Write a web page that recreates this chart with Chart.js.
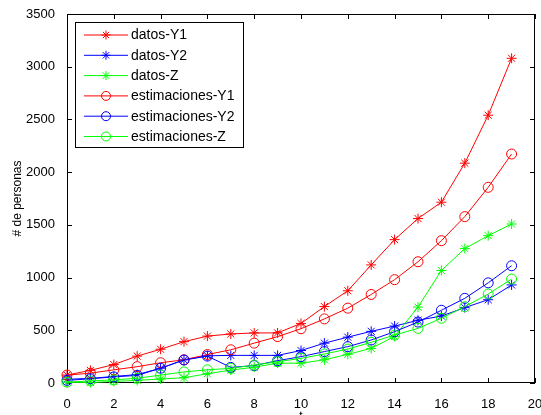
<!DOCTYPE html>
<html lang="es">
<head>
<meta charset="utf-8">
<title>datos y estimaciones</title>
<script src="https://cdn.jsdelivr.net/npm/chart.js"></script>
<style>
  body { margin: 0; background: #fff; }
  canvas { display: block; }
</style>
</head>
<body>
<canvas id="chart" width="541" height="415"></canvas>
<script>
// valores
const t = [0, 1, 2, 3, 4, 5, 6, 7, 8, 9, 10, 11, 12, 13, 14, 15, 16, 17, 18, 19];
const datosY1 = [75, 120, 175, 255, 320, 392, 445, 465, 475, 475, 565, 725, 875, 1120, 1360, 1560, 1715, 2085, 2540, 3080];
const datosY2 = [35, 44, 62, 80, 140, 220, 258, 262, 262, 262, 308, 378, 435, 490, 540, 595, 635, 715, 790, 930];
const datosZ = [8, 5, 15, 25, 38, 50, 88, 122, 150, 188, 188, 220, 272, 328, 442, 720, 1067, 1275, 1398, 1508];
const estY1 = [75, 93, 125, 155, 192, 220, 270, 315, 378, 440, 515, 608, 710, 840, 980, 1150, 1350, 1578, 1856, 2172];
const estY2 = [25, 40, 58, 72, 140, 218, 255, 148, 165, 212, 250, 298, 345, 408, 487, 578, 690, 803, 950, 1112];
const estZ = [8, 20, 30, 45, 75, 105, 125, 139, 170, 202, 234, 275, 322, 386, 455, 518, 614, 724, 844, 986];

const xTicks = [0, 2, 4, 6, 8, 10, 12, 14, 16, 18, 20];
const yTicks = [0, 500, 1000, 1500, 2000, 2500, 3000, 3500];

const FONT = "'Liberation Sans', Arial, sans-serif";

function serie(label, values, color, marker, order) {
  return {
    label: label,
    data: values.map((v, i) => ({ x: t[i], y: v })),
    borderColor: color,
    backgroundColor: color,
    pointBorderColor: color,
    pointBackgroundColor: marker === 'circle' ? 'rgba(0,0,0,0)' : color,
    pointStyle: marker,
    pointRadius: 5,
    pointBorderWidth: 1,
    borderWidth: 1,
    tension: 0,
    fill: false,
    clip: false,
    order: order
  };
}

function drawMarker(ctx, style, x, y, r) {
  ctx.beginPath();
  if (style === 'circle') {
    ctx.arc(x, y, r, 0, Math.PI * 2);
  } else {
    for (let k = 0; k < 4; k++) {
      const a = k * Math.PI / 4;
      ctx.moveTo(x - r * Math.cos(a), y - r * Math.sin(a));
      ctx.lineTo(x + r * Math.cos(a), y + r * Math.sin(a));
    }
  }
  ctx.stroke();
}

// marco y marcas hacia dentro, como en matlab
const framePlugin = {
  id: 'frame',
  beforeDatasetsDraw(chart) {
    const ctx = chart.ctx;
    const a = chart.chartArea;
    const xs = chart.scales.x, ys = chart.scales.y;
    ctx.save();
    ctx.strokeStyle = '#000';
    ctx.lineWidth = 1;
    ctx.strokeRect(a.left + 0.5, a.top + 0.5, a.right - a.left - 1, a.bottom - a.top - 1);
    ctx.beginPath();
    xTicks.forEach(v => {
      const px = Math.round(xs.getPixelForValue(v)) + 0.5;
      ctx.moveTo(px, a.bottom); ctx.lineTo(px, a.bottom - 5);
      ctx.moveTo(px, a.top); ctx.lineTo(px, a.top + 5);
    });
    yTicks.forEach(v => {
      const py = Math.round(ys.getPixelForValue(v)) + 0.5;
      ctx.moveTo(a.left, py); ctx.lineTo(a.left + 5, py);
      ctx.moveTo(a.right, py); ctx.lineTo(a.right - 5, py);
    });
    ctx.stroke();
    ctx.restore();
  }
};

const legendPlugin = {
  id: 'matlabLegend',
  afterDraw(chart) {
    const ctx = chart.ctx;
    const sets = chart.data.datasets;
    const box = { x: 75.5, y: 22.5, w: 168, h: 125 };
    ctx.save();
    ctx.fillStyle = '#fff';
    ctx.fillRect(box.x, box.y, box.w, box.h);
    ctx.strokeStyle = '#000';
    ctx.lineWidth = 1;
    ctx.strokeRect(box.x, box.y, box.w, box.h);
    ctx.font = '14px ' + FONT;
    ctx.textBaseline = 'middle';
    sets.forEach((ds, i) => {
      const y = 35 + i * 20.3;
      ctx.strokeStyle = ds.borderColor;
      ctx.beginPath();
      ctx.moveTo(84, y); ctx.lineTo(128, y);
      ctx.stroke();
      drawMarker(ctx, ds.pointStyle, 106, y, 4.5);
      ctx.fillStyle = '#000';
      ctx.fillText(ds.label, 131, y + 0.5);
    });
    ctx.restore();
  }
};

const ctx = document.getElementById('chart').getContext('2d');
const chart = new Chart(ctx, {
  type: 'line',
  data: {
    datasets: [
      serie('datos-Y1', datosY1, '#ff0000', 'star', 6),
      serie('datos-Y2', datosY2, '#0000ff', 'star', 5),
      serie('datos-Z', datosZ, '#00ff00', 'star', 4),
      serie('estimaciones-Y1', estY1, '#ff0000', 'circle', 3),
      serie('estimaciones-Y2', estY2, '#0000ff', 'circle', 2),
      serie('estimaciones-Z', estZ, '#00ff00', 'circle', 1)
    ]
  },
  options: {
    responsive: false,
    animation: false,
    devicePixelRatio: 1,
    layout: { padding: { top: 14, right: 5, left: 0, bottom: 0 } },
    plugins: {
      legend: { display: false },
      tooltip: { enabled: false }
    },
    scales: {
      x: {
        type: 'linear',
        min: 0,
        max: 20,
        afterBuildTicks: s => { s.ticks = xTicks.map(v => ({ value: v })); },
        afterFit: s => { s.height = 32; s.paddingLeft = 0; s.paddingRight = 0; },
        grid: { display: false },
        border: { display: false },
        ticks: { color: '#000', font: { family: FONT, size: 13 }, padding: 6, maxRotation: 0, autoSkip: false, callback: v => String(v) },
        title: { display: true, text: 't', color: '#000', font: { family: FONT, size: 12 }, padding: { top: 0, bottom: -9 } }
      },
      y: {
        type: 'linear',
        min: 0,
        max: 3500,
        afterBuildTicks: s => { s.ticks = yTicks.map(v => ({ value: v })); },
        afterFit: s => { s.width = 67; s.paddingTop = 0; s.paddingBottom = 0; },
        grid: { display: false },
        border: { display: false },
        ticks: { color: '#000', font: { family: FONT, size: 13 }, padding: 4, autoSkip: false, callback: v => String(v) },
        title: { display: true, text: '# de personas', color: '#000', font: { family: FONT, size: 12 }, padding: { top: 10, bottom: 0 } }
      }
    }
  },
  plugins: [framePlugin, legendPlugin]
});
</script>
</body>
</html>
